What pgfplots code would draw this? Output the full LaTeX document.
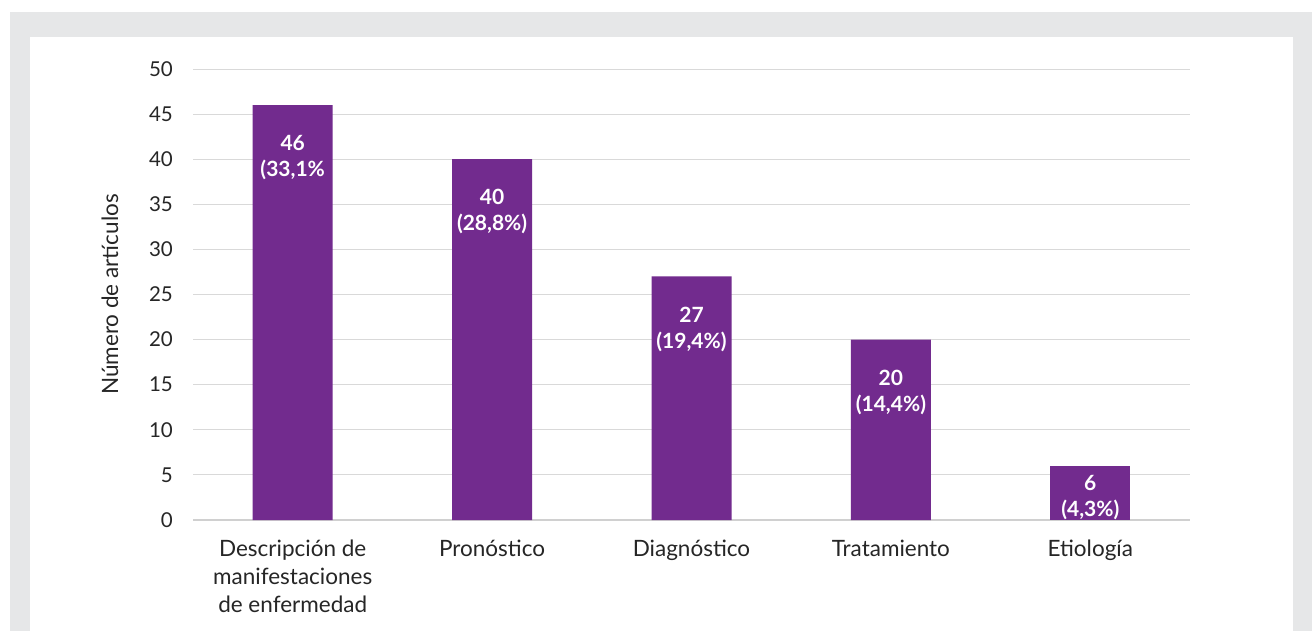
\documentclass[border=0pt]{standalone}
\usepackage{pgfplots}
\pgfplotsset{compat=1.18}
\usepackage{fontspec}
\setmainfont{Lato}
\definecolor{barpurple}{HTML}{722B8E}
\definecolor{gridgray}{HTML}{D9D9D9}
\definecolor{axisgray}{HTML}{D0D0D0}
\definecolor{bggray}{HTML}{E6E7E8}
\definecolor{txt}{HTML}{262626}

\begin{document}
\begin{tikzpicture}
\useasboundingbox (0pt,0pt) rectangle (1312pt,-631pt);
\fill[white] (0pt,0pt) rectangle (1312pt,-631pt);
\fill[bggray] (10pt,-12pt) rectangle (1312pt,-631pt);
\fill[white] (30pt,-37pt) rectangle (1293pt,-631pt);
\begin{axis}[
	at={(193pt,-520pt)}, anchor=south west,
	scale only axis, width=997pt, height=451pt,
	xmin=-0.5, xmax=4.5, ymin=0, ymax=50,
	axis x line*=bottom, axis y line*=left,
	x axis line style={draw=axisgray, line width=2pt},
	y axis line style={draw=none},
	major tick length=0pt,
	xtick={0,1,2,3,4},
	xticklabels={Descripción de\\manifestaciones\\de enfermedad, Pronóstico, Diagnóstico, Tratamiento, Etiología},
	xticklabel style={font=\fontsize{22.5}{28}\selectfont, text=txt, align=center, anchor=north, inner sep=0pt, yshift=-20pt},
	ytick={0,5,...,50},
	yticklabel style={font=\fontsize{20.5}{24}\selectfont, text=txt, anchor=east, inner sep=0pt, xshift=-20pt},
	/pgf/number format/assume math mode=true,
	ymajorgrids, grid style={draw=gridgray, line width=1pt},
	ylabel={Número de artículos},
	every axis y label/.style={at={(rel axis cs:0,0.5)}, rotate=90, anchor=center, yshift=83pt, font=\fontsize{22.5}{26}\selectfont, text=txt},
	ybar, bar width=80pt, bar shift=0pt,
	point meta=explicit symbolic,
	nodes near coords={\pgfplotspointmeta},
	nodes near coords style={font=\bfseries\fontsize{21}{26}\selectfont, text=white, align=center, anchor=north, inner sep=0pt},
]
\addplot[draw=none, fill=barpurple, nodes near coords style={yshift=-30pt}] coordinates {
	(0,46) [{46\\(33,1\%}]
	(1,40) [{40\\(28,8\%)}]
	(2,27) [{27\\(19,4\%)}]
	(3,20) [{20\\(14,4\%)}]
};
\addplot[draw=none, fill=barpurple, nodes near coords style={yshift=-9pt}] coordinates {
	(4,6) [{6\\(4,3\%)}]
};
\end{axis}
\end{tikzpicture}
\end{document}
